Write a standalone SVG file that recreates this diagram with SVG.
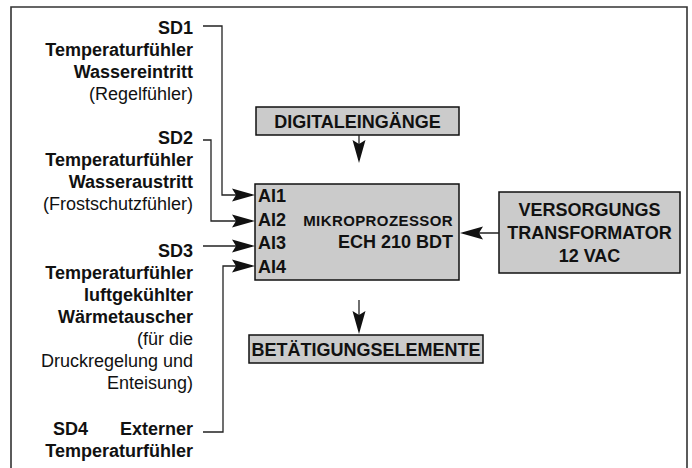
<svg xmlns="http://www.w3.org/2000/svg" width="692" height="468" viewBox="0 0 692 468">
<style>
text{font-family:"Liberation Sans",Arial,Helvetica,sans-serif;fill:#111}
.b{font-weight:bold;font-size:18px}
.r{font-size:18px}
.e{text-anchor:end}
.m{text-anchor:middle}
.box{fill:#cbcbcb;stroke:#111;stroke-width:1.5}
.ln{fill:none;stroke:#222;stroke-width:1.3}
.frame{fill:none;stroke:#333;stroke-width:1.6}
</style>
<defs>
<marker id="ah" viewBox="-26 -8 27 16" markerWidth="27" markerHeight="16" refX="-3" refY="0" markerUnits="userSpaceOnUse" orient="auto">
<path d="M0,0 L-23,-6.5 L-19,0 L-23,6.5 Z" fill="#111"/>
</marker>
</defs>
<path class="frame" d="M11,468 V7 H687 V468"/>

<g id="sd1">
<text class="b e" x="193" y="34">SD1</text>
<text class="b e" x="193" y="56">Temperaturfühler</text>
<text class="b e" x="193" y="78">Wassereintritt</text>
<text class="r e" x="193" y="100">(Regelfühler)</text>
</g>
<g id="sd2">
<text class="b e" x="193" y="144">SD2</text>
<text class="b e" x="193" y="166">Temperaturfühler</text>
<text class="b e" x="193" y="188">Wasseraustritt</text>
<text class="r e" x="193" y="210">(Frostschutzfühler)</text>
</g>
<g id="sd3">
<text class="b e" x="193" y="257">SD3</text>
<text class="b e" x="193" y="279">Temperaturfühler</text>
<text class="b e" x="193" y="301">luftgekühlter</text>
<text class="b e" x="193" y="323">Wärmetauscher</text>
<text class="r e" x="193" y="345">(für die</text>
<text class="r e" x="193" y="367">Druckregelung und</text>
<text class="r e" x="193" y="389">Enteisung)</text>
</g>
<g id="sd4">
<text class="b"><tspan x="53" y="435">SD4</tspan><tspan x="193" y="435" text-anchor="end">Externer</tspan></text>
<text class="b e" x="193" y="457">Temperaturfühler</text>
</g>

<g id="digitaleingaenge">
<rect class="box" x="256" y="107" width="203" height="28"/>
<text class="b m" x="357.5" y="128">DIGITALEINGÄNGE</text>
</g>
<g id="mikroprozessor">
<rect class="box" x="255" y="184" width="204" height="96"/>
<text class="b" x="258" y="202">AI1</text>
<text class="b" x="258" y="226">AI2</text>
<text class="b" x="258" y="249">AI3</text>
<text class="b" x="258" y="273">AI4</text>
<text class="e" x="453" y="226" style="font-weight:bold;font-size:15px;letter-spacing:0.4px">MIKROPROZESSOR</text>
<text class="b e" x="453" y="248">ECH 210 BDT</text>
</g>
<g id="transformator">
<rect class="box" x="499" y="192" width="181" height="81"/>
<text class="b m" x="589.5" y="216">VERSORGUNGS</text>
<text class="b m" x="589.5" y="239">TRANSFORMATOR</text>
<text class="b m" x="589.5" y="262">12 VAC</text>
</g>
<g id="betaetigungselemente">
<rect class="box" x="249" y="335" width="234" height="28"/>
<text class="b m" x="366" y="356">BETÄTIGUNGSELEMENTE</text>
</g>

<g id="connectors">
<path class="ln" d="M203,26 H222 V195 H252" marker-end="url(#ah)"/>
<path class="ln" d="M203,140 H211 V221 H252" marker-end="url(#ah)"/>
<path class="ln" d="M203,246 H252" marker-end="url(#ah)"/>
<path class="ln" d="M203,432 H223 V266 H252" marker-end="url(#ah)"/>
<path class="ln" d="M359,135 V160" marker-end="url(#ah)"/>
<path class="ln" d="M499,233 H463" marker-end="url(#ah)"/>
<path class="ln" d="M359,300 V331" marker-end="url(#ah)"/>
</g>
</svg>
